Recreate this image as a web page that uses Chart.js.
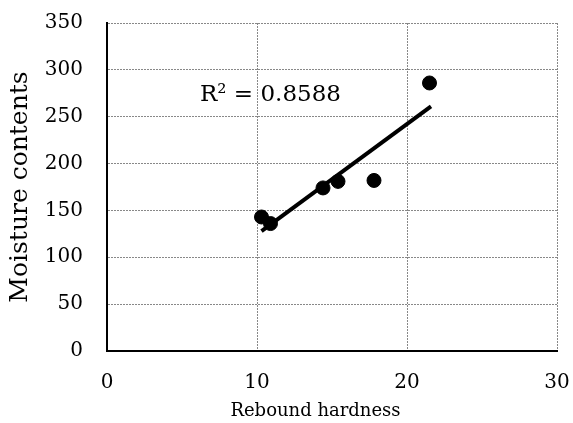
<!DOCTYPE html>
<html>
<head>
<meta charset="utf-8">
<script src="https://cdn.jsdelivr.net/npm/chart.js@4"></script>
<style>
    html, body { margin: 0; padding: 0; background: #fff; }
    #wrap { width: 573px; height: 423px; position: relative; }
</style>
</head>
<body>
<div id="wrap"><canvas id="scatterChart"></canvas></div>
<script>
// Data
const hardness = [10.3, 10.9, 14.4, 15.4, 17.8, 21.5];
const moisture = [143, 136, 174, 181, 182, 286];

// Trend line end points (as drawn in the picture)
const trendX = [10.3, 21.6];
const trendY = [128, 261];

const xTicks = [0, 10, 20, 30];
const yTicks = [0, 50, 100, 150, 200, 250, 300, 350];

const r2Label = 'R\u00B2 = 0.8588';
const xTitle = 'Rebound hardness';

const serif = '"DejaVu Serif", "Liberation Serif", serif';

/**
 * Draws the R² note and the x axis title
 */
const textPlugin = {
    id: 'extraText',
    afterDatasetsDraw(chart) {
        const ctx = chart.ctx;
        ctx.save();
        ctx.fillStyle = '#000';
        ctx.textBaseline = 'middle';

        // R² note inside the plot
        ctx.font = '23px ' + serif;
        ctx.textAlign = 'left';
        ctx.fillText(r2Label, chart.scales.x.getPixelForValue(6.2), chart.scales.y.getPixelForValue(273));

        // x axis title, a bit left of the plot centre as in the picture
        ctx.font = '18px ' + serif;
        ctx.textAlign = 'center';
        ctx.fillText(xTitle, chart.scales.x.getPixelForValue(13.9), 411);
        ctx.restore();
    }
};

document.addEventListener('DOMContentLoaded', function() {
    const ctx = document.getElementById('scatterChart').getContext('2d');

    new Chart(ctx, {
        type: 'scatter',
        data: {
            datasets: [
                {
                    label: 'Measured',
                    data: hardness.map((x, i) => ({ x: x, y: moisture[i] })),
                    backgroundColor: '#000',
                    borderColor: '#000',
                    pointRadius: 7,
                    pointHoverRadius: 7
                },
                {
                    label: 'Trend',
                    type: 'line',
                    data: trendX.map((x, i) => ({ x: x, y: trendY[i] })),
                    borderColor: '#000',
                    borderWidth: 4,
                    pointRadius: 0,
                    fill: false
                }
            ]
        },
        options: {
            responsive: true,
            maintainAspectRatio: false,
            animation: false,
            layout: {
                padding: { top: 23, right: 16, bottom: 0, left: 0 }
            },
            plugins: {
                legend: { display: false },
                tooltip: { enabled: false }
            },
            scales: {
                x: {
                    type: 'linear',
                    min: 0,
                    max: 30,
                    afterBuildTicks: function(scale) {
                        scale.ticks = xTicks.map(v => ({ value: v }));
                    },
                    afterFit: function(scale) {
                        scale.height = 72;
                        scale.paddingLeft = 0;
                        scale.paddingRight = 0;
                    },
                    grid: {
                        color: '#888',
                        lineWidth: 1,
                        drawTicks: false
                    },
                    border: {
                        display: true,
                        color: '#000',
                        width: 2,
                        dash: [2, 1]
                    },
                    ticks: {
                        color: '#000',
                        padding: 20,
                        font: { family: serif, size: 20 }
                    }
                },
                y: {
                    type: 'linear',
                    min: 0,
                    max: 350,
                    afterBuildTicks: function(scale) {
                        scale.ticks = yTicks.map(v => ({ value: v }));
                    },
                    afterFit: function(scale) {
                        scale.width = 107;
                        scale.paddingTop = 0;
                        scale.paddingBottom = 0;
                    },
                    grid: {
                        color: '#888',
                        lineWidth: 1,
                        drawTicks: false
                    },
                    border: {
                        display: true,
                        color: '#000',
                        width: 2,
                        dash: [2, 1]
                    },
                    ticks: {
                        color: '#000',
                        padding: 24,
                        font: { family: serif, size: 20 }
                    },
                    title: {
                        display: true,
                        text: 'Moisture contents',
                        color: '#000',
                        padding: { top: 5, bottom: 0 },
                        font: { family: serif, size: 25 }
                    }
                }
            }
        },
        plugins: [textPlugin]
    });
});
</script>
</body>
</html>
